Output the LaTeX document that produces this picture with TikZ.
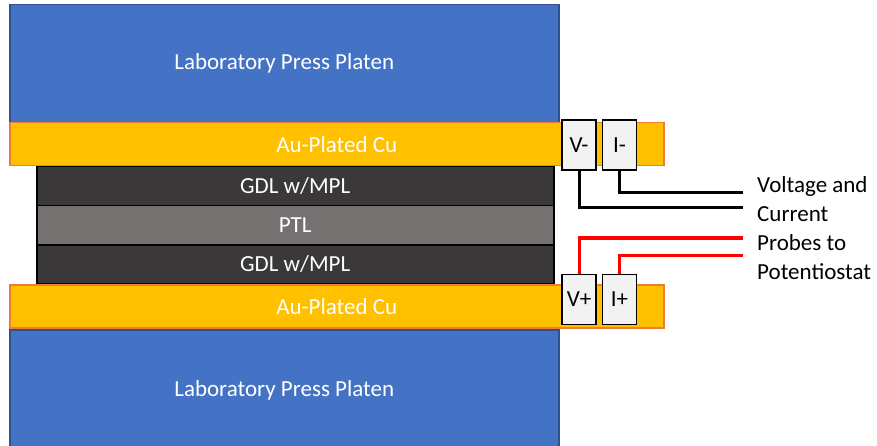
\documentclass[tikz,border=0pt]{standalone}
\usepackage{fontspec}
\setmainfont{Carlito}
\usetikzlibrary{positioning}

\definecolor{platenblue}{HTML}{4472C4}
\definecolor{platenedge}{HTML}{2F528F}
\definecolor{aucolor}{HTML}{FFC000}
\definecolor{auedge}{HTML}{ED7D31}
\definecolor{gdlgray}{HTML}{3A3838}
\definecolor{ptlgray}{HTML}{767171}
\definecolor{probefill}{HTML}{F2F2F2}

\begin{document}
\begin{tikzpicture}[x=1pt, y=-1pt, line join=miter,
    layer/.style={rectangle, anchor=north west, inner sep=0pt, text=white,
                  font=\fontsize{23}{28}\selectfont},
    platen/.style={layer, fill=platenblue, draw=platenedge, line width=1.5pt,
                   minimum width=549pt, minimum height=118pt},
    auplate/.style={layer, fill=aucolor, draw=auedge, line width=1.5pt,
                    minimum width=654pt, minimum height=43pt},
    cellpart/.style={layer, draw=black, line width=1.5pt,
                     minimum width=517pt, minimum height=39pt},
    probe/.style={rectangle, draw=black, fill=probefill, line width=1.5pt,
                  inner sep=0pt, minimum width=34pt, minimum height=50pt,
                  font=\fontsize{23}{28}\selectfont},
    wire/.style={line width=3pt, line cap=butt}]
        \path[use as bounding box, clip] (0,0) rectangle (877,446);
        % press platens and current collectors
        \node[platen] (topplaten) at (9,4) {Laboratory Press Platen};
        \node[auplate] (topau) at (9,122) {Au-Plated Cu};
        % cell stack
        \node[cellpart, fill=gdlgray] (topgdl) at (36,166) {GDL w/MPL};
        \node[cellpart, fill=ptlgray] (ptl) at (36,205) {PTL};
        \node[cellpart, fill=gdlgray] (botgdl) at (36,244) {GDL w/MPL};
        \node[auplate] (botau) at (9,284) {Au-Plated Cu};
        \node[platen, minimum height=122pt] (botplaten) at (9,329) {Laboratory Press Platen};
        % probes
        \node[probe] (vminus) at (579,145) {V-};
        \node[probe, right=5pt of vminus] (iminus) {I-};
        \node[probe] (vplus) at (579,299.5) {V+};
        \node[probe, right=5pt of vplus] (iplus) {I+};
        \coordinate (vminusend) at (743,208);
        \coordinate (iminusend) at (743,193);
        \coordinate (vplusend) at (743,238);
        \coordinate (iplusend) at (743,255);
        \draw[wire] (vminus.south) |- (vminusend);
        \draw[wire] (iminus.south) |- (iminusend);
        \draw[wire, red] (vplus.north) |- (vplusend);
        \draw[wire, red] (iplus.north) |- (iplusend);
        \node[anchor=north west, inner sep=0pt, align=left,
              font=\fontsize{23}{29}\selectfont] (probelabel) at (757,176)
            {Voltage and\\Current\\Probes to\\Potentiostat};
\end{tikzpicture}
\end{document}
